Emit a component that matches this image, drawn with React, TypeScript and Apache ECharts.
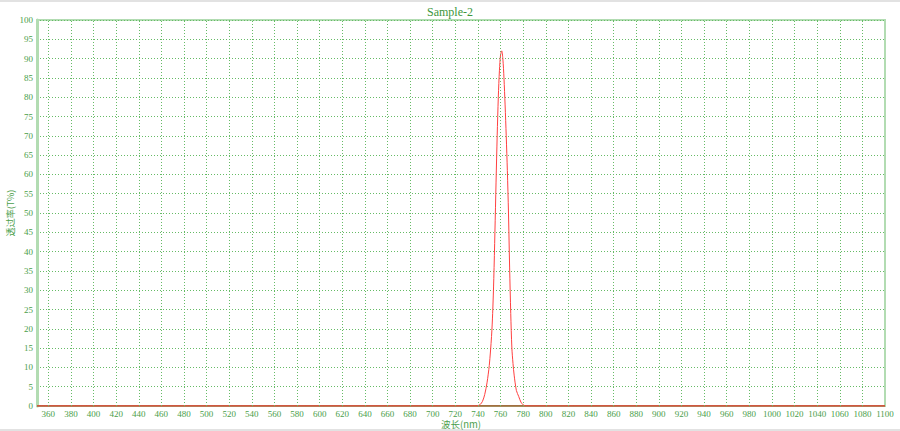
import React, { useEffect, useRef } from "react";
import * as echarts from "echarts";

const wavelengths = [350, 736, 738, 740, 742, 744, 746, 748, 750, 752, 753, 754, 755, 756, 757, 758, 759, 760, 761, 762, 763, 764, 765, 766, 767, 768, 769, 770, 771, 772, 774, 776, 778, 780, 782, 784, 1100];
const transmittance = [0, 0, 0, 0.1, 0.4, 1.2, 3, 6, 10.5, 18, 24, 33, 45, 58, 70, 80, 87, 91, 92, 90, 85, 78, 70, 61, 50, 36, 24, 15, 11, 8, 4, 2.5, 1, 0.3, 0.05, 0, 0];
const xTicks: number[] = [];
for (let v = 360; v <= 1100; v += 20) xTicks.push(v);

const GREEN_TXT = "#4a9e4a";
const GRID_GREEN = "#66bb66";
const AXIS_GREEN = "#b2dcb2";
const SERIF = "Liberation Serif, DejaVu Serif, serif";

export default function App() {
  const ref = useRef<HTMLDivElement>(null);
  useEffect(() => {
    if (!ref.current) return;
    const chart = echarts.init(ref.current, undefined, { renderer: "svg" });
    const data = wavelengths.map((w, i) => [w, transmittance[i]]);
    chart.setOption({
      animation: false,
      backgroundColor: "#ffffff",
      title: {
        text: "Sample-2",
        left: "center",
        top: 1,
        textStyle: { fontFamily: SERIF, fontSize: 12, fontWeight: "normal", color: "#3c963c" },
      },
      graphic: [
        { type: "rect", z: -10, shape: { x: 0, y: 0, width: 900, height: 2 }, style: { fill: "#e2e2e2" } },
        { type: "rect", z: -10, shape: { x: 0, y: 429, width: 900, height: 2 }, style: { fill: "#e2e2e2" } },
      ],
      grid: {
        left: 37,
        right: 15,
        top: 20,
        bottom: 25,
        show: true,
        borderColor: AXIS_GREEN,
        borderWidth: 2,
        containLabel: false,
        outerBoundsMode: "none",
      },
      xAxis: {
        type: "value",
        min: 350,
        max: 1100,
        name: "波长(nm)",
        nameLocation: "middle",
        nameGap: 13,
        nameMoveOverlap: false,
        nameTextStyle: { fontFamily: "Noto Sans CJK SC, serif", fontSize: 9.5, color: GREEN_TXT },
        axisLine: { show: true, lineStyle: { color: AXIS_GREEN, width: 2 } },
        axisTick: { show: false },
        splitLine: { show: false },
        axisLabel: {
          customValues: xTicks,
          showMaxLabel: true,
          formatter: (v: number) => String(v),
          fontFamily: SERIF,
          fontSize: 9,
          color: GREEN_TXT,
          margin: 3,
        },
      },
      yAxis: {
        type: "value",
        min: 0,
        max: 100,
        interval: 5,
        name: "透过率(T%)",
        nameLocation: "middle",
        nameGap: 22,
        nameRotate: 90,
        nameMoveOverlap: false,
        nameTextStyle: { fontFamily: "Noto Sans CJK SC, serif", fontSize: 9, color: GREEN_TXT },
        axisLine: { show: true, lineStyle: { color: AXIS_GREEN, width: 3 } },
        axisTick: { show: false },
        axisLabel: { fontFamily: SERIF, fontSize: 9, color: GREEN_TXT, margin: 4 },
        splitLine: { show: true, lineStyle: { color: GRID_GREEN, type: [1, 2], width: 1 } },
      },
      series: [
        {
          type: "line",
          data,
          showSymbol: false,
          symbol: "none",
          smooth: 0.3,
          lineStyle: { color: "#ff4040", width: 1 },
          itemStyle: { color: "#ff4040" },
          z: 3,
          markLine: {
            silent: true,
            symbol: "none",
            label: { show: false },
            lineStyle: { color: GRID_GREEN, type: [1, 2], width: 1 },
            data: xTicks.filter((v) => v < 1100).map((v) => ({ xAxis: v })),
          },
        },
        {
          type: "line",
          data: [[350, 0], [1100, 0]],
          symbol: "none",
          lineStyle: { color: "#9c4a1a", width: 1.5 },
          z: 2,
          silent: true,
        },
      ],
    });
    return () => chart.dispose();
  }, []);
  return <div ref={ref} style={{ position: "fixed", left: 0, top: 0, width: 900, height: 431 }} />;
}
